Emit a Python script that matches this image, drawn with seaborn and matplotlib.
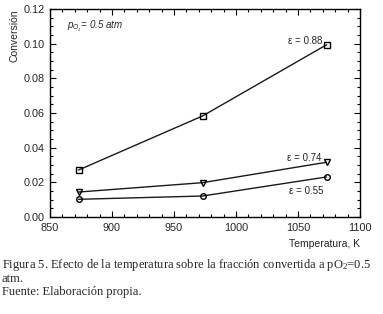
import matplotlib
matplotlib.use("Agg")
import seaborn as sns
import matplotlib.pyplot as plt
import pandas as pd
from matplotlib.ticker import MultipleLocator

# Datos
temperatura = [873, 973, 1073]
conv_088 = [0.0271, 0.0583, 0.0994]
conv_074 = [0.0144, 0.0198, 0.0316]
conv_055 = [0.0102, 0.0121, 0.0231]
etiquetas = ["ε = 0.88", "ε = 0.74", "ε = 0.55"]

df = pd.DataFrame({
    "T": temperatura * 3,
    "conv": conv_088 + conv_074 + conv_055,
    "eps": [etiquetas[0]] * 3 + [etiquetas[1]] * 3 + [etiquetas[2]] * 3,
})

sns.set_style("ticks")
plt.rcParams["font.family"] = ["Liberation Sans", "DejaVu Sans"]
plt.rcParams["mathtext.fontset"] = "custom"
plt.rcParams["mathtext.it"] = "Liberation Sans:italic"
plt.rcParams["mathtext.rm"] = "Liberation Serif"

fig = plt.figure(figsize=(3.83, 3.14), dpi=100)
ax = fig.add_axes([0.1305, 0.309, 0.8095, 0.662])

marcadores = {etiquetas[0]: "s", etiquetas[1]: "v", etiquetas[2]: "o"}
sns.lineplot(data=df, x="T", y="conv", hue="eps", style="eps",
             markers=marcadores, dashes=False, palette=["#1a1a1a"] * 3,
             markersize=4, markeredgewidth=1, markerfacecolor="none",
             markeredgecolor="black", linewidth=1, legend=False, ax=ax)

ax.set_xlim(850, 1100)
ax.set_ylim(0, 0.12)
ax.xaxis.set_major_locator(MultipleLocator(50))
ax.xaxis.set_minor_locator(MultipleLocator(10))
ax.yaxis.set_major_locator(MultipleLocator(0.02))
ax.yaxis.set_minor_locator(MultipleLocator(0.005))
ax.yaxis.set_major_formatter(plt.FormatStrFormatter("%.2f"))
ax.tick_params(which="both", direction="in", top=True, right=True,
               labelsize=7.8, width=0.8, color="black")
ax.tick_params(which="major", length=4, pad=4)
ax.tick_params(which="minor", length=2)
for s in ax.spines.values():
    s.set_linewidth(1)
    s.set_color("black")

ax.set_xlabel("Temperatura, K", fontsize=7.5, loc="right", labelpad=5)
ax.set_ylabel("Conversión", fontsize=7.5, loc="top", labelpad=3)

# etiquetas de cada curva junto al último punto
ax.annotate(etiquetas[0], (temperatura[-1], conv_088[-1]), xytext=(-3, 3),
            textcoords="offset points", ha="right", va="center", fontsize=7)
ax.annotate(etiquetas[1], (temperatura[-1], conv_074[-1]), xytext=(-3.5, 3.3),
            textcoords="offset points", ha="right", va="center", fontsize=7)
ax.annotate(etiquetas[2], (temperatura[-1], conv_055[-1]), xytext=(-2, -10),
            textcoords="offset points", ha="right", va="center", fontsize=7)

ax.text(0.055, 0.915, r"$p_{O_2}$= 0.5 atm", transform=ax.transAxes,
        fontsize=7, style="italic", ha="left", va="center")

# pie de figura (líneas de base en px desde arriba)
serif = ["Liberation Serif", "DejaVu Serif"]
fig.text(0.005, 1 - 268 / 314, r"Figura 5. Efecto de la temperatura sobre la fracción convertida a pO$\mathrm{_2}$=0.5",
         family=serif, fontsize=9, ha="left", va="baseline")
fig.text(0.005, 1 - 281.5 / 314, "atm.", family=serif, fontsize=9,
         ha="left", va="baseline")
fig.text(0.005, 1 - 295 / 314, "Fuente: Elaboración propia.", family=serif,
         fontsize=9, ha="left", va="baseline")

fig.savefig("out.png", dpi=100)
